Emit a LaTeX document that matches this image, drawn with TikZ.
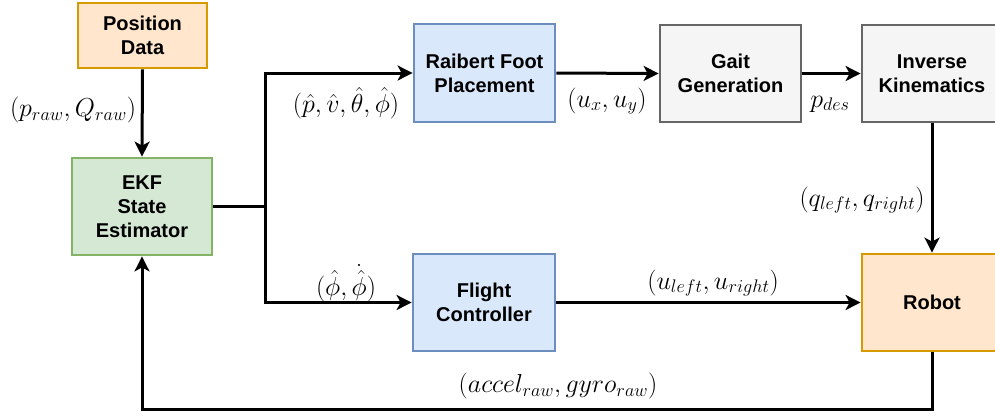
\RequirePackage{fix-cm}
\documentclass[tikz,border=0pt]{standalone}
\usepackage{fontspec}
\setmainfont{Liberation Sans}
\usetikzlibrary{arrows.meta}

\definecolor{orangefill}{HTML}{FFE6CC}
\definecolor{orangeline}{HTML}{D79B00}
\definecolor{greenfill}{HTML}{D5E8D4}
\definecolor{greenline}{HTML}{82B366}
\definecolor{bluefill}{HTML}{DAE8FC}
\definecolor{blueline}{HTML}{6C8EBF}
\definecolor{grayfill}{HTML}{F5F5F5}
\definecolor{grayline}{HTML}{666666}

\tikzset{
  block/.style={draw, line width=2.8pt, rectangle, align=center,
    inner sep=0pt, minimum width=140pt, minimum height=97pt,
    font=\fontsize{20}{24}\selectfont\bfseries},
  orangebox/.style={block, fill=orangefill, draw=orangeline},
  greenbox/.style={block, fill=greenfill, draw=greenline},
  bluebox/.style={block, fill=bluefill, draw=blueline},
  graybox/.style={block, fill=grayfill, draw=grayline},
  link/.style={line width=3pt, draw=black},
  flow/.style={link, -{Stealth[length=15pt,width=15pt,inset=4pt]}},
  sig/.style={inner sep=0pt, font=\fontsize{26}{30}\selectfont}
}

\begin{document}
\begin{tikzpicture}[x=1pt,y=-1pt]
  \useasboundingbox (0,0) rectangle (995,416);

  % blocks
  \node[orangebox, minimum width=129pt, minimum height=65pt] (pos) at (142.5,35.5) {Position\\Data};
  \node[greenbox] (ekf) at (142,206.5) {EKF\\State\\Estimator};
  \node[bluebox, minimum width=141pt, minimum height=98pt] (raibert) at (484.5,73) {Raibert Foot\\Placement};
  \node[graybox, minimum width=141pt] (gait) at (730.5,73.5) {Gait\\Generation};
  \node[graybox] (ik) at (932,73.5) {Inverse\\Kinematics};
  \node[bluebox, minimum width=142pt] (flight) at (484,302.5) {Flight\\Controller};
  \node[orangebox] (robot) at (932,302.5) {Robot};

  % connectors
  \draw[flow] (pos.south) -- (ekf.north);
  \draw[link] (ekf.east) -- (265,206.5) coordinate (split);
  \draw[flow] (split) |- (raibert.west);
  \draw[flow] (split) |- (flight.west);
  \draw[flow] (raibert.east) -- (gait.west);
  \draw[flow] (gait.east) -- (ik.west);
  \draw[flow] (ik.south) -- (robot.north);
  \draw[flow] (flight.east) -- (robot.west);
  \draw[flow] (robot.south) -- ++(0,57) coordinate (loop) -| (ekf.south);

  % signal labels
  \node[sig] (lpos) at (73,110) {$(p_{raw}, Q_{raw})$};
  \node[sig] (lstate) at (346,103) {$(\hat{p}, \hat{v}, \hat{\theta}, \hat{\phi})$};
  \node[sig] (lu) at (607,101) {$(u_x, u_y)$};
  \node[sig] (lpdes) at (830,104) {$p_{des}$};
  \node[sig] (lq) at (862,200) {$(q_{left}, q_{right})$};
  \node[sig] (lphi) at (346,283) {$(\hat{\phi}, \dot{\hat{\phi}})$};
  \node[sig] (luf) at (713,283) {$(u_{left}, u_{right})$};
  \node[sig] (limu) at (558,386) {$(accel_{raw}, gyro_{raw})$};
\end{tikzpicture}
\end{document}
